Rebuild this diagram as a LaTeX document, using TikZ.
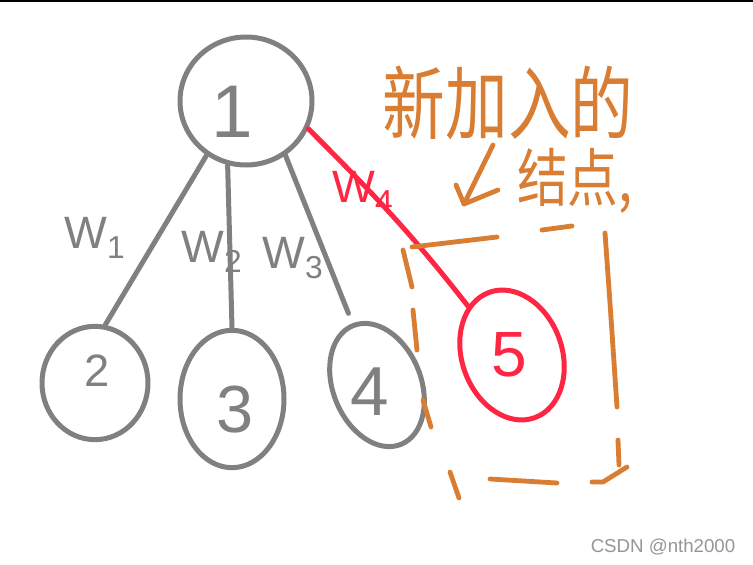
\documentclass[tikz,border=0pt]{standalone}
\usepackage{fontspec}
\setmainfont{Liberation Sans}
\newfontfamily\cjk{Noto Sans CJK SC}
\usetikzlibrary{shapes.geometric}
\definecolor{hgray}{RGB}{128,128,128}
\definecolor{hred}{RGB}{255,38,68}
\definecolor{horange}{RGB}{217,125,50}
\definecolor{wmgray}{RGB}{150,150,150}
\begin{document}
\begin{tikzpicture}[x=0.75pt,y=-0.75pt,line cap=round,line join=round,
  circ/.style={draw=hgray,line width=3.75pt,ellipse,inner sep=0pt},
  num/.style={text=hgray,font=\fontsize{56}{56}\selectfont,inner sep=0pt},
  wlab/.style={text=hgray,font=\fontsize{34}{34}\selectfont,inner sep=0pt},
  gedge/.style={draw=hgray,line width=3.75pt},
  redge/.style={draw=hred,line width=3.75pt},
  obox/.style={draw=horange,line width=3.6pt}]
\useasboundingbox (0,0) rectangle (753,564);
\fill[white] (0,0) rectangle (753,564);
\draw[black,line width=1.2pt] (0,0.8) -- (753,0.8);

% nodes
\node[circ,minimum width=99pt,minimum height=96pt] (n1) at (246,101) {};
\node[circ,minimum width=79.5pt,minimum height=85pt] (n2) at (95,383) {};
\node[circ,minimum width=78pt,minimum height=103pt] (n3) at (232,399) {};
\node[circ,minimum width=66pt,minimum height=96pt,rotate=22] (n4) at (377,385) {};
\node[circ,draw=hred,minimum width=75pt,minimum height=100pt,rotate=20] (n5) at (512,355) {};

% node numbers
\node[num] (l1) at (232,112) {1};
\node[num,font=\fontsize{34}{34}\selectfont] (l2) at (97,371) {2};
\node[num,font=\fontsize{50}{50}\selectfont] (l3) at (235,410) {3};
\node[num,font=\fontsize{52}{52}\selectfont] (l4) at (370,392) {4};
\node[num,text=hred,font=\fontsize{48}{48}\selectfont] (l5) at (509,355) {5};

% edges
\draw[gedge] (n1.234) -- (n2.80);
\draw[gedge] (n1.254) -- (n3.north);
\draw[gedge,shorten >=8pt] (n1.306) -- (n4);
\draw[redge] (n1.336) to[out=-45,in=128] (n5.112);

% edge labels
\node[wlab] (w1) at (95,238) {W\textsubscript{1}};
\node[wlab] (w2) at (212,252) {W\textsubscript{2}};
\node[wlab] (w3) at (293,258) {W\textsubscript{3}};
\node[wlab,text=hred] (w4) at (363,192) {W\textsubscript{4}};

% dashed box (hand drawn strokes)
\draw[obox] (412,247) -- (497,237);
\draw[obox] (542,230) -- (572,226);
\draw[obox] (605,233) -- (610,303) -- (617,407);
\draw[obox] (618,440) -- (619,465);
\draw[obox] (592,482) -- (603,482) -- (627,467);
\draw[obox] (490,479) -- (557,483);
\draw[obox] (450,472) -- (459,498);
\draw[obox] (403,250) -- (412,287);
\draw[obox] (413,310) -- (417,350);
\draw[obox] (423,400) -- (431,427);

% annotation
\node[text=horange,font=\cjk\fontsize{48}{48}\selectfont,inner sep=0pt] (t1) at (508,103) {\scalebox{0.98}[1.25]{新加入的}};
\node[text=horange,font=\cjk\fontsize{38}{38}\selectfont,inner sep=0pt] (t2) at (575,181) {\scalebox{1}[1.25]{结点,}};
\coordinate (at) at (493,145);
\coordinate (ab) at (464,204);
\draw[obox] (at) -- (ab);
\draw[obox] (456,185) -- (ab) -- (498,190);

% watermark
\node[text=wmgray,font=\fontsize{14}{14}\selectfont,inner sep=0pt] (wm) at (663,547) {CSDN @nth2000};
\end{tikzpicture}
\end{document}
